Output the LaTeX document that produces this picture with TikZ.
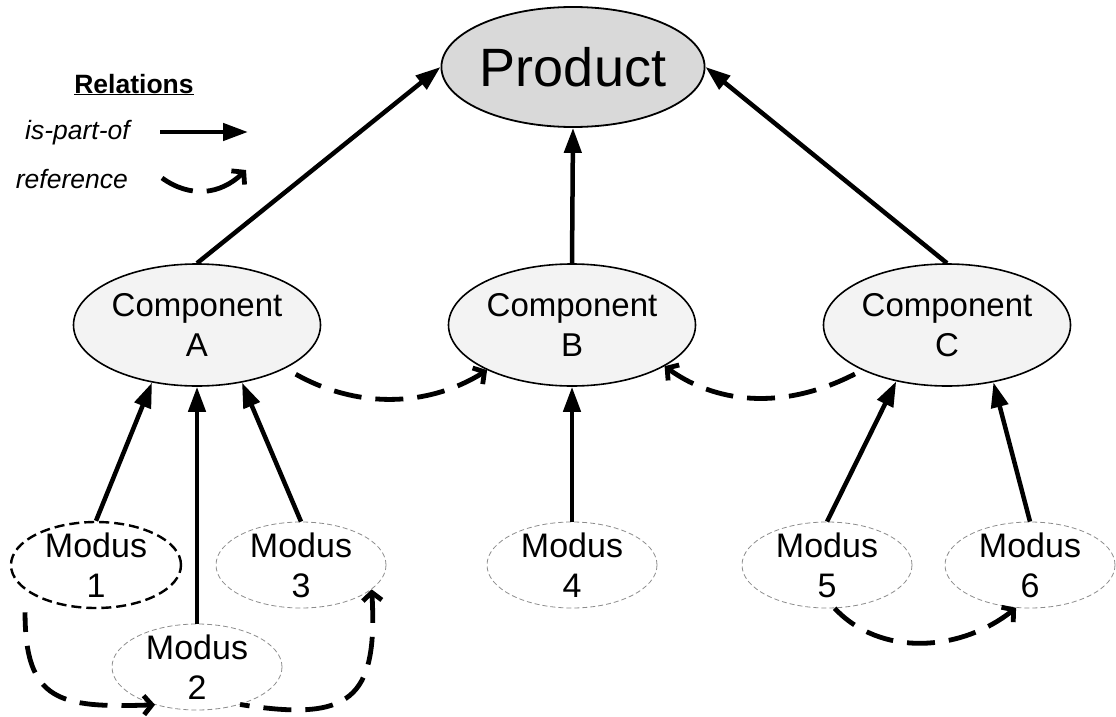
\documentclass[tikz,border=0pt]{standalone}
\usepackage{fontspec}
\setmainfont{Liberation Sans}
\usetikzlibrary{shapes.geometric,arrows.meta}
\definecolor{prodgray}{HTML}{D9D9D9}
\definecolor{compgray}{HTML}{F3F3F3}
\definecolor{modline}{HTML}{8C8C8C}
\tikzset{
  prod/.style={ellipse, draw, line width=1.8pt, fill=prodgray, minimum width=251pt,
    minimum height=120pt, inner sep=0pt, font=\fontsize{54}{60}\selectfont},
  comp/.style={ellipse, draw, line width=1.6pt, fill=compgray, minimum width=247pt,
    minimum height=122pt, inner sep=0pt, align=center, font=\fontsize{33}{40}\selectfont},
  modus/.style={ellipse, draw=modline, line width=0.8pt, dash pattern=on 5pt off 3pt,
    minimum width=170pt, minimum height=86pt, inner sep=0pt},
  modusbold/.style={modus, draw=black, line width=2.4pt, dash pattern=on 10pt off 5pt},
  modtext/.style={align=center, inner sep=0pt, font=\fontsize{34}{40}\selectfont},
  partof/.style={line width=4.5pt, -{Triangle[length=25pt,width=17pt]}},
  % reference paths are written from the arrow end, so the dashes start at the tip
  refer/.style={line width=4.8pt, dash pattern=on 28pt off 14pt,
    {Straight Barb[length=8pt,width=19pt]}-},
  legtext/.style={inner sep=0pt, font=\fontsize{26.5}{30}\selectfont}
}
\begin{document}
\begin{tikzpicture}[x=1pt,y=-1pt]
\useasboundingbox (0,0) rectangle (1116,717);

% hierarchy nodes
\node[prod] (P) at (573,67) {Product};
\node[comp] (A) at (197,325) {Component\\A};
\node[comp] (B) at (572,325) {Component\\B};
\node[comp] (C) at (947,325) {Component\\C};

\node[modusbold, label={[modtext]center:{Modus\\1}}] (m1) at (96,565) {};
\node[modus, label={[modtext]center:{Modus\\2}}] (m2) at (197,667) {};
\node[modus, label={[modtext]center:{Modus\\3}}] (m3) at (301,565) {};
\node[modus, label={[modtext]center:{Modus\\4}}] (m4) at (572,565) {};
\node[modus, label={[modtext]center:{Modus\\5}}] (m5) at (827,565) {};
\node[modus, label={[modtext]center:{Modus\\6}}] (m6) at (1030,565) {};

% is-part-of relations
\draw[partof] (A.north) -- (P.west);
\draw[partof] (B.north) -- (P.south);
\draw[partof] (C.north) -- (P.east);
\draw[partof] (m1.north) -- (A.-128);
\draw[partof] (m2.north) -- (A.south);
\draw[partof] (m3.north) -- (A.-52);
\draw[partof] (m4.north) -- (B.south);
\draw[partof] (m5.north) -- (C.-132);
\draw[partof] (m6.north) -- (C.-51);

% reference relations (target first)
\draw[refer] (B.-152) .. controls (430,406) and (355,412) .. (A.-26);
\draw[refer] (B.-24) .. controls (720,406) and (790,410) .. (C.-152);
\draw[refer] (m2.-138) .. controls (60,708) and (25,702) .. ([xshift=-10pt,yshift=-16pt]m1.south west);
\draw[refer] (m3.-19) .. controls (378,700) and (350,722) .. (m2.-41);
\draw[refer] (m6.-108) .. controls (960,652) and (880,657) .. (m5.-80);

% legend
\node[legtext, anchor=base] (lt) at (134,93) {\underline{\textbf{Relations}}};
\node[legtext, anchor=base east] (lp) at (130,139) {\itshape is-part-of};
\node[legtext, anchor=base east] (lr) at (128,188) {\itshape reference};
\coordinate (pa) at (160,132);
\coordinate (pb) at (248,132);
\draw[partof] (pa) -- (pb);
\coordinate (ra) at (162,178);
\coordinate (rb) at (246,170);
\draw[refer, dash pattern=on 40pt off 14pt] (rb) .. controls (220,195) and (190,198) .. (ra);
\end{tikzpicture}
\end{document}
